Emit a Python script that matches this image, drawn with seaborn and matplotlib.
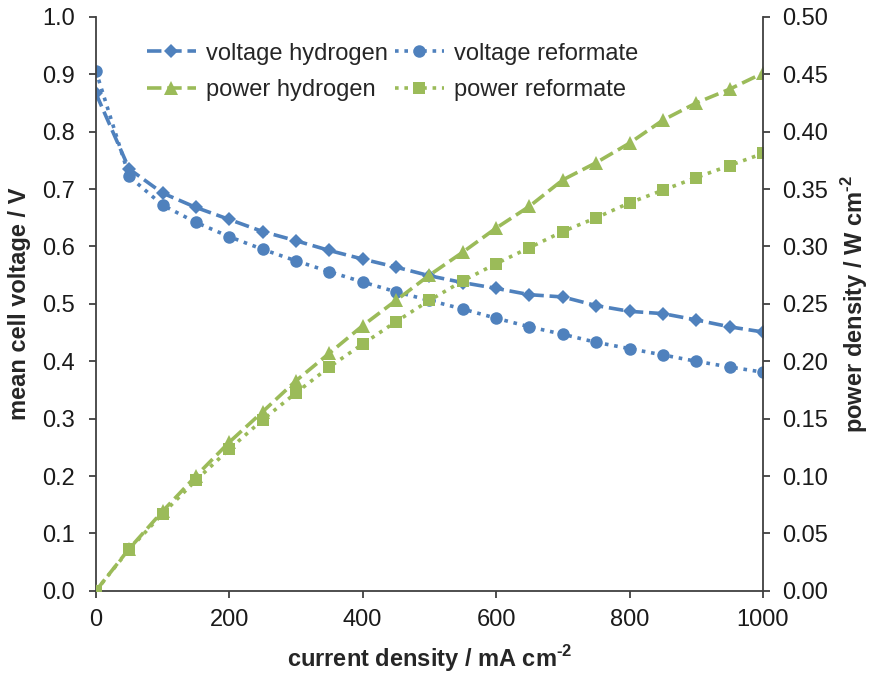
import matplotlib
matplotlib.use("Agg")
import matplotlib.pyplot as plt
import pandas as pd
import seaborn as sns

# values
current = [0, 50, 100, 150, 200, 250, 300, 350, 400, 450, 500,
           550, 600, 650, 700, 750, 800, 850, 900, 950, 1000]
voltage_hydrogen = [0.867, 0.735, 0.693, 0.668, 0.647, 0.626, 0.610, 0.593, 0.578, 0.564, 0.549,
                    0.537, 0.527, 0.516, 0.512, 0.497, 0.487, 0.483, 0.472, 0.460, 0.451]
voltage_reformate = [0.906, 0.722, 0.672, 0.642, 0.617, 0.595, 0.575, 0.556, 0.538, 0.521, 0.506,
                     0.491, 0.475, 0.460, 0.447, 0.433, 0.422, 0.411, 0.400, 0.390, 0.381]
power_hydrogen = [0.0, 0.0367, 0.0693, 0.100, 0.1295, 0.156, 0.183, 0.207, 0.231, 0.253, 0.275,
                  0.295, 0.316, 0.335, 0.358, 0.373, 0.390, 0.410, 0.425, 0.437, 0.451]
power_reformate = [0.0, 0.0361, 0.0672, 0.0963, 0.1234, 0.149, 0.1725, 0.195, 0.215, 0.2345, 0.253,
                   0.270, 0.285, 0.299, 0.313, 0.325, 0.338, 0.349, 0.360, 0.3705, 0.381]

BLUE = "#4F81BD"
GREEN = "#9BBB59"
SPINE = "#404040"
FS = 17


def main() -> None:
    sns.set_style("ticks")
    plt.rcParams["font.family"] = ["Liberation Sans", "DejaVu Sans"]
    plt.rcParams["mathtext.fontset"] = "custom"
    plt.rcParams["mathtext.bf"] = "Liberation Sans:bold"
    plt.rcParams["mathtext.rm"] = "Liberation Sans:bold"

    df = pd.DataFrame({
        "current": current,
        "vH": voltage_hydrogen,
        "vR": voltage_reformate,
        "pH": power_hydrogen,
        "pR": power_reformate,
    })

    fig = plt.figure(figsize=(8.71, 6.73), dpi=100)
    ax = fig.add_axes([0.110, 0.122, 0.766, 0.853])
    ax2 = ax.twinx()

    dash = (4, 1.6)
    dot = (1, 1.6)
    sns.lineplot(data=df, x="current", y="vH", ax=ax, color=BLUE, lw=2.6,
                 marker="D", markersize=7, markeredgewidth=0, label="voltage hydrogen")
    sns.lineplot(data=df, x="current", y="vR", ax=ax, color=BLUE, lw=2.6,
                 marker="o", markersize=9, markeredgewidth=0, label="voltage reformate")
    sns.lineplot(data=df, x="current", y="pH", ax=ax2, color=GREEN, lw=2.6,
                 marker="^", markersize=10, markeredgewidth=0, label="power hydrogen")
    sns.lineplot(data=df, x="current", y="pR", ax=ax2, color=GREEN, lw=2.6,
                 marker="s", markersize=8.5, markeredgewidth=0, label="power reformate")
    ax.lines[0].set_dashes(dash)
    ax.lines[1].set_dashes(dot)
    ax2.lines[0].set_dashes(dash)
    ax2.lines[1].set_dashes(dot)

    ax.set_xlim(0, 1000)
    ax.set_ylim(0, 1.0)
    ax2.set_ylim(0, 0.5)
    ax.set_xticks(range(0, 1001, 200))
    ax.set_yticks([i / 10 for i in range(11)])
    ax2.set_yticks([i / 20 for i in range(11)])
    ax.set_yticklabels([f"{i / 10:.1f}" for i in range(11)])
    ax2.set_yticklabels([f"{i / 20:.2f}" for i in range(11)])

    for a in (ax, ax2):
        a.spines["top"].set_visible(False)
        for s in ("left", "right", "bottom"):
            a.spines[s].set_color(SPINE)
            a.spines[s].set_linewidth(1.3)
        a.tick_params(labelsize=FS, colors="#1a1a1a", length=5, width=1.3, color=SPINE)
    ax.tick_params(axis="y", pad=10)
    ax.tick_params(axis="x", pad=8)
    ax2.tick_params(axis="y", pad=9)
    ax.spines["right"].set_visible(False)
    ax2.spines["left"].set_visible(False)
    ax2.spines["bottom"].set_visible(False)

    sup = "$^{\\text{-}\\mathbf{2}}$"
    ax.set_xlabel("current density / mA cm" + sup, fontsize=FS, fontweight="bold", labelpad=9)
    ax.set_ylabel("mean cell voltage / V", fontsize=FS, fontweight="bold", labelpad=8)
    ax2.set_ylabel("power density / W cm" + sup, fontsize=FS, fontweight="bold", labelpad=8)

    h1, l1 = ax.get_legend_handles_labels()
    h2, l2 = ax2.get_legend_handles_labels()
    ax.get_legend().remove()
    ax2.get_legend().remove()
    handles = [h1[0], h2[0], h1[1], h2[1]]
    labels = [l1[0], l2[0], l1[1], l2[1]]
    ax2.legend(handles, labels, ncol=2, frameon=False, fontsize=FS,
               loc="upper left", bbox_to_anchor=(0.076, 0.955), borderpad=0, borderaxespad=0,
               handlelength=2.1, columnspacing=0.3, handletextpad=0.4, labelspacing=0.62)

    fig.savefig("out.png", dpi=100)
    plt.close(fig)


if __name__ == "__main__":
    main()
